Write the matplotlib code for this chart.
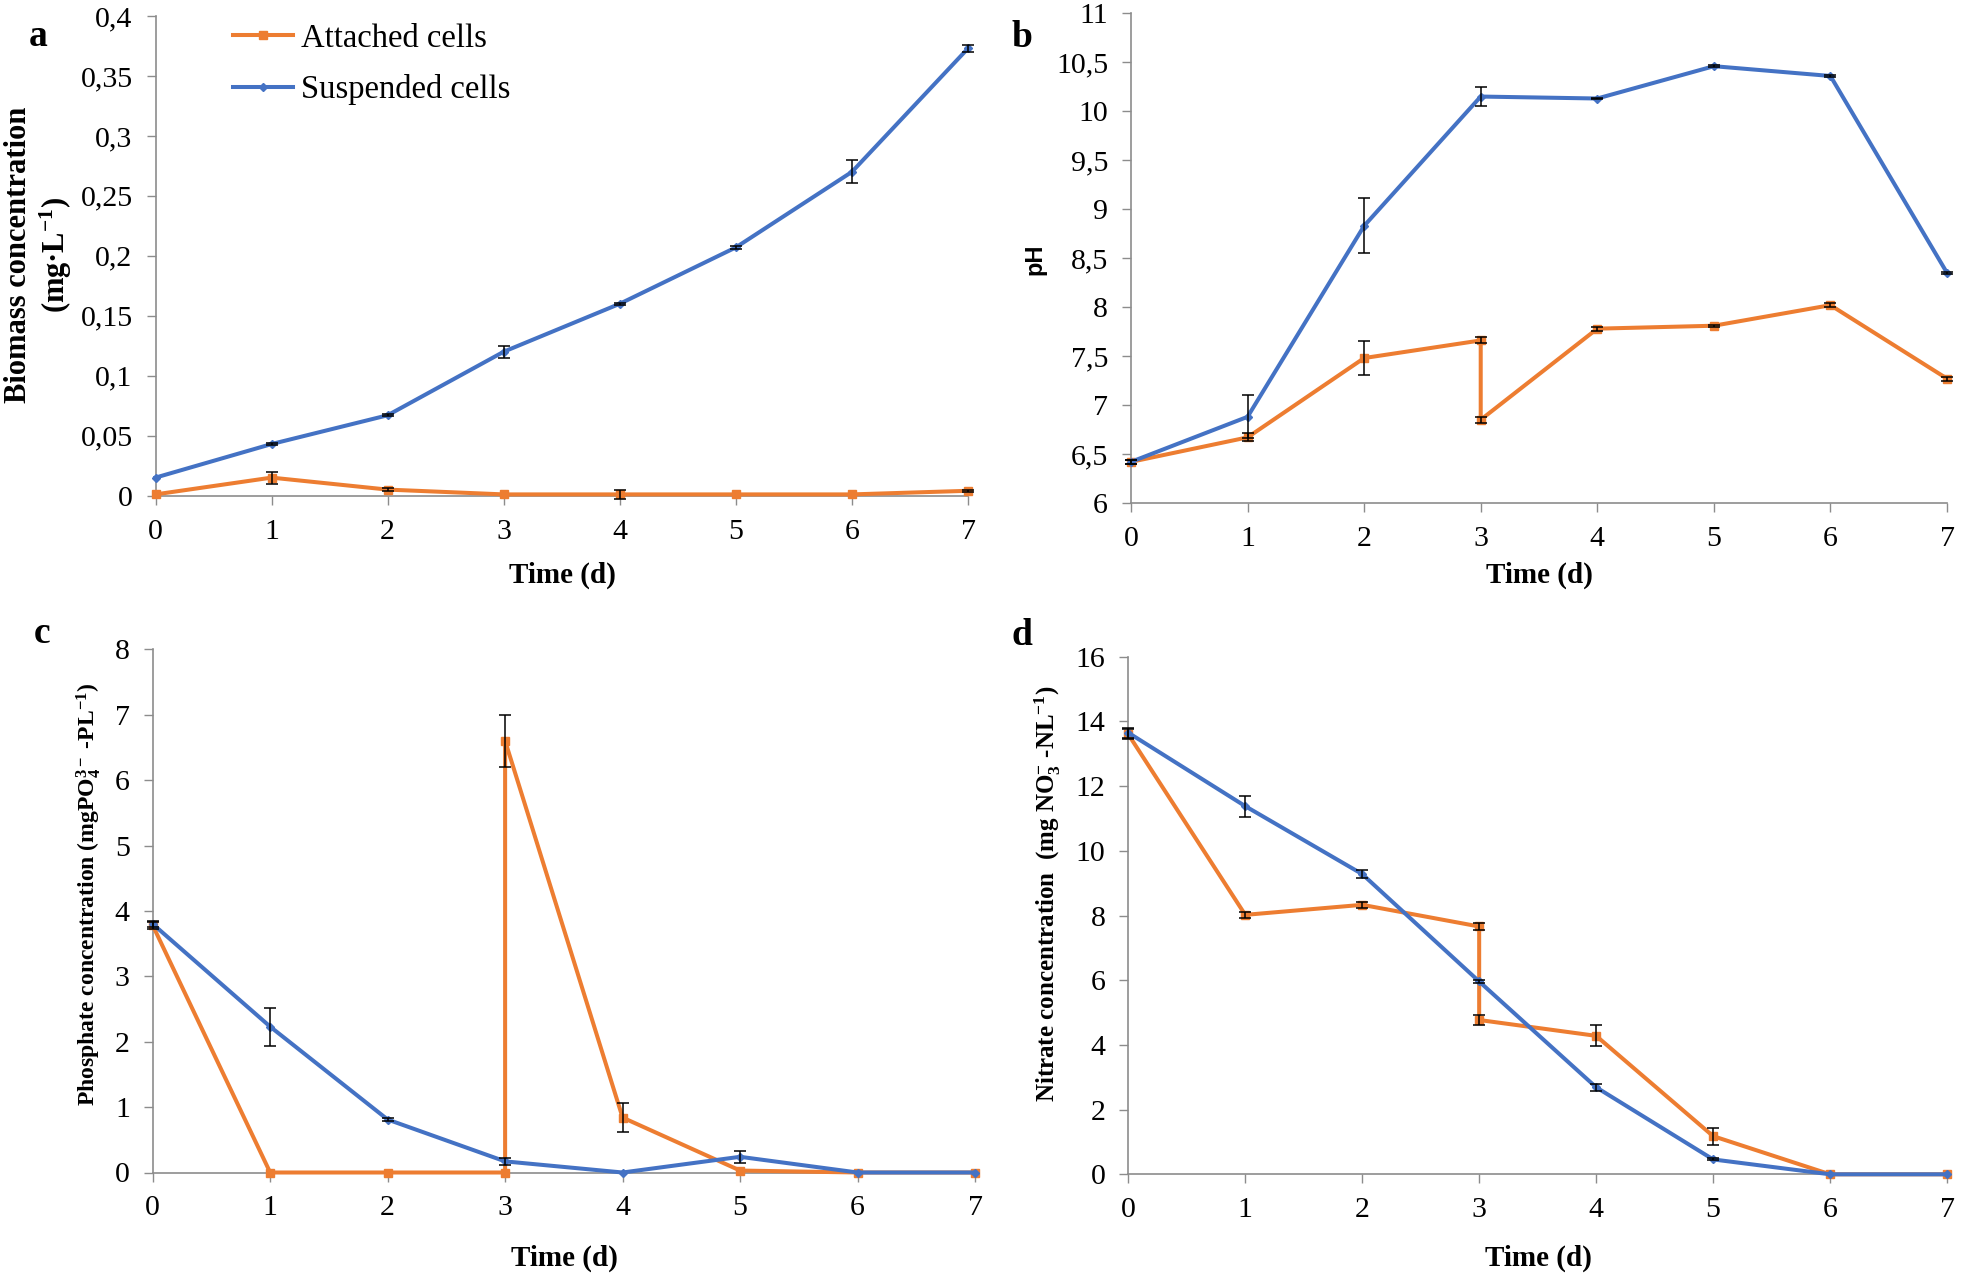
# Biomass, pH, phosphate and nitrate over 7 days, attached vs suspended cells

import numpy as np
import matplotlib
matplotlib.use('Agg')
import matplotlib.pyplot as plt
from matplotlib.ticker import FixedLocator, FuncFormatter
from matplotlib.lines import Line2D

plt.rcParams['font.family'] = ['Liberation Serif', 'DejaVu Serif']
plt.rcParams['mathtext.fontset'] = 'custom'
plt.rcParams['mathtext.rm'] = 'Liberation Serif:bold'
plt.rcParams['mathtext.it'] = 'Liberation Serif:bold'
plt.rcParams['mathtext.bf'] = 'Liberation Serif:bold'

ORANGE = '#ED7D31'
BLUE = '#4472C4'
GREY = '#8c8c8c'

# ----------------------------------------------------------
# data
days = [0, 1, 2, 3, 4, 5, 6, 7]
days_split = [0, 1, 2, 3, 3, 4, 5, 6, 7]    # attached cells: two readings on day 3

# (a) biomass, mg/L
bio_att = [0.001, 0.015, 0.005, 0.001, 0.001, 0.001, 0.001, 0.004]
bio_att_err = [0, 0.005, 0.001, 0, 0.004, 0, 0, 0.001]
bio_sus = [0.015, 0.043, 0.067, 0.120, 0.160, 0.207, 0.270, 0.373]
bio_sus_err = [0, 0.001, 0.001, 0.005, 0.001, 0.001, 0.0095, 0.003]

# (b) pH
ph_att = [6.42, 6.67, 7.48, 7.66, 6.85, 7.78, 7.81, 8.02, 7.27]
ph_att_err = [0.02, 0.04, 0.17, 0.03, 0.03, 0.02, 0.01, 0.02, 0.02]
ph_sus = [6.42, 6.88, 8.83, 10.15, 10.13, 10.46, 10.36, 8.35]
ph_sus_err = [0.02, 0.22, 0.28, 0.10, 0.01, 0.01, 0.01, 0.01]

# (c) phosphate
po4_att = [3.78, 0.0, 0.0, 0.0, 6.60, 0.84, 0.03, 0.0, 0.0]
po4_att_err = [0.05, 0, 0, 0, 0.40, 0.22, 0, 0, 0]
po4_sus = [3.80, 2.23, 0.81, 0.17, 0.0, 0.24, 0.0, 0.0]
po4_sus_err = [0.04, 0.29, 0.03, 0.05, 0, 0.09, 0, 0]

# (d) nitrate
no3_att = [13.6, 8.02, 8.33, 7.66, 4.77, 4.28, 1.18, 0.0, 0.0]
no3_att_err = [0.15, 0.1, 0.1, 0.1, 0.15, 0.32, 0.26, 0, 0]
no3_sus = [13.65, 11.38, 9.28, 5.96, 2.69, 0.46, 0.0, 0.0]
no3_sus_err = [0.15, 0.32, 0.12, 0.05, 0.1, 0.03, 0, 0]

W, H = 1961, 1275
fig = plt.figure(figsize=(W/100, H/100), dpi=100, facecolor='w')


def px_ax(left, top, right, bottom):
    return fig.add_axes([left/W, 1-bottom/H, (right-left)/W, (bottom-top)/H])


def px_text(x, y, s, **kw):
    fig.text(x/W, 1-y/H, s, **kw)


def comma(v, pos=None):
    return ('%g' % round(v, 4)).replace('.', ',')


def draw(ax, xa, ya, ea, xs, ys, es, yticks):
    ax.plot(xa, ya, '-', color=ORANGE, lw=2.9, marker='s', ms=5.5, clip_on=False, zorder=3)
    ax.plot(xs, ys, '-', color=BLUE, lw=2.9, marker='D', ms=4.5, clip_on=False, zorder=3.5)
    for x, y, e in ((xa, ya, ea), (xs, ys, es)):
        x = np.array(x, float); y = np.array(y, float); e = np.array(e, float)
        m = e > 0
        ax.errorbar(x[m], y[m], yerr=e[m], fmt='none', ecolor='black', elinewidth=1.1,
                    capsize=4.5, capthick=1.1, zorder=4, clip_on=False)
    ax.set_xlim(0, 7)
    ax.set_ylim(yticks[0], yticks[-1])
    ax.xaxis.set_major_locator(FixedLocator(days))
    ax.yaxis.set_major_locator(FixedLocator(yticks))
    ax.yaxis.set_major_formatter(FuncFormatter(comma))
    for s in ('top', 'right'):
        ax.spines[s].set_visible(False)
    for s in ('left', 'bottom'):
        ax.spines[s].set_color(GREY)
        ax.spines[s].set_linewidth(1.2)
    ax.tick_params(direction='out', length=6.5, width=1, color=GREY, labelsize=21.5, pad=10)


ax1 = px_ax(155.5, 16, 968, 495.6)
draw(ax1, days, bio_att, bio_att_err, days, bio_sus, bio_sus_err, np.arange(0, 0.401, 0.05))

ax2 = px_ax(1131, 13.3, 1947, 503)
draw(ax2, days_split, ph_att, ph_att_err, days, ph_sus, ph_sus_err, np.arange(6, 11.01, 0.5))

ax3 = px_ax(152.7, 649.3, 975, 1172.5)
draw(ax3, days_split, po4_att, po4_att_err, days, po4_sus, po4_sus_err, np.arange(0, 8.01, 1))

ax4 = px_ax(1128.3, 656.7, 1947, 1174.3)
draw(ax4, days_split, no3_att, no3_att_err, days, no3_sus, no3_sus_err, np.arange(0, 16.01, 2))

# legend in panel a
handles = [Line2D([], [], color=ORANGE, lw=2.9, marker='s', ms=5.5),
           Line2D([], [], color=BLUE, lw=2.9, marker='D', ms=4.5)]
ax1.legend(handles, ['Attached cells', 'Suspended cells'], loc='upper left',
           bbox_to_anchor=(0.095, 0.985), frameon=False, fontsize=23.5, handlelength=1.85,
           handletextpad=0.25, labelspacing=0.62, borderpad=0, borderaxespad=0)

# axis titles
for x, y in ((562, 575), (1539, 575), (564, 1258), (1538, 1258)):
    px_text(x, y, 'Time (d)', fontsize=21, fontweight='bold', ha='center', va='center')

px_text(39, 255, 'Biomass concentration\n(mg\u00b7L$^{-1}$)', fontsize=22, fontweight='bold',
        rotation=90, ha='center', va='center', multialignment='center', linespacing=1.2)
px_text(1035, 259, 'pH', fontsize=17, fontweight='bold', rotation=90, ha='center', va='center',
        family='Liberation Sans')
px_text(89, 894, 'Phosphate concentration (mgPO$_4^{3-}$ -PL$^{-1}$)', fontsize=17,
        fontweight='bold', rotation=90, ha='center', va='center')
px_text(1048, 894, 'Nitrate concentration  (mg NO$_3^{-}$ -NL$^{-1}$)', fontsize=18,
        fontweight='bold', rotation=90, ha='center', va='center')

# panel letters
for x, y, s in ((38, 46, 'a'), (1022, 47, 'b'), (42, 643, 'c'), (1022, 645, 'd')):
    px_text(x, y, s, fontsize=27, fontweight='bold', ha='center', va='baseline')

fig.savefig('out.png', dpi=100)
